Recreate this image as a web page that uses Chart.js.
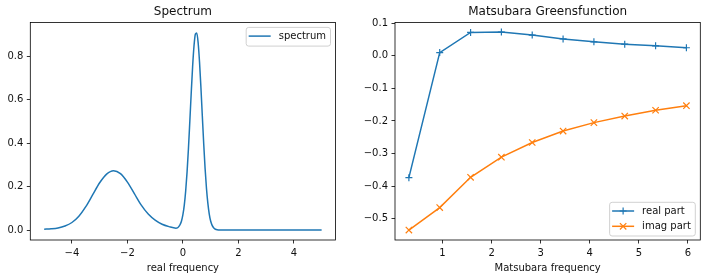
<!DOCTYPE html>
<html>
<head>
<meta charset="utf-8">
<script src="https://cdn.jsdelivr.net/npm/chart.js@4/dist/chart.umd.min.js"></script>
<style>
  html, body { margin: 0; padding: 0; background: #fff; }
  #wrap { position: relative; width: 706px; height: 278px; overflow: hidden; background: #fff; }
  canvas { position: absolute; top: 0; }
  #c1 { left: 0; }
  #c2 { left: 353px; }
</style>
</head>
<body>
<div id="wrap">
  <canvas id="c1" width="353" height="278"></canvas>
  <canvas id="c2" width="353" height="278"></canvas>
</div>
<script>
// ---------- data ----------
const specX = [-5.0, -4.75, -4.5, -4.25, -4.0, -3.75, -3.5, -3.25, -3.0, -2.75, -2.5, -2.25, -2.0, -1.75, -1.5, -1.25, -1.0, -0.75, -0.5, -0.25,
  -0.2, -0.15, -0.1, -0.05, 0.0, 0.05, 0.1, 0.15, 0.2, 0.25, 0.3, 0.35, 0.4, 0.45, 0.5, 0.55, 0.6, 0.65, 0.7, 0.75, 0.8, 0.85, 0.9, 0.95,
  1.0, 1.05, 1.1, 1.15, 1.2, 1.3, 1.4, 1.5, 2.0, 2.5, 3.0, 3.5, 4.0, 4.5, 5.0];
const specY = [0.004, 0.006, 0.010, 0.019, 0.035, 0.064, 0.108, 0.163, 0.218, 0.258, 0.274, 0.260, 0.221, 0.168, 0.115, 0.074, 0.046, 0.027, 0.016, 0.009,
  0.010, 0.016, 0.026, 0.042, 0.071, 0.115, 0.180, 0.267, 0.376, 0.502, 0.632, 0.753, 0.848, 0.903, 0.908, 0.862, 0.773, 0.656, 0.526, 0.398,
  0.284, 0.192, 0.123, 0.074, 0.042, 0.023, 0.012, 0.0055, 0.0025, 0.0008, 0.0003, 0.0001, 0.0, 0.0, 0.0, 0.0, 0.0, 0.0, 0.0];

const matsX = [0.314, 0.942, 1.571, 2.199, 2.827, 3.456, 4.084, 4.712, 5.341, 5.969];
const realPart = [-0.374, 0.010, 0.072, 0.073, 0.064, 0.052, 0.043, 0.036, 0.031, 0.025];
const imagPart = [-0.535, -0.466, -0.373, -0.311, -0.266, -0.231, -0.205, -0.185, -0.167, -0.153];

const specXTicks = [-4, -2, 0, 2, 4];
const specYTicks = [0.0, 0.2, 0.4, 0.6, 0.8];
const matsXTicks = [1, 2, 3, 4, 5, 6];
const matsYTicks = [-0.5, -0.4, -0.3, -0.2, -0.1, 0.0, 0.1];

const titles = ['Spectrum', 'Matsubara Greensfunction'];
const xTitles = ['real frequency', 'Matsubara frequency'];
const legend1 = ['spectrum'];
const legend2 = ['real part', 'imag part'];

// ---------- styling ----------
const FONT = 'DejaVu Sans';
const BLUE = '#1f77b4';
const ORANGE = '#ff7f0e';
const TXT = '#111';

function minus(s) { return s.replace('-', '\u2212'); }
function fmtInt(v) { return minus(String(Math.round(v))); }
function fmt1(v) { let s = (Math.round(v * 10) / 10).toFixed(1); if (s === '-0.0') s = '0.0'; return minus(s); }

function makeScale(opts) {
  return {
    type: 'linear',
    min: opts.min, max: opts.max,
    afterBuildTicks: s => { s.ticks = opts.ticks.map(v => ({ value: v })); },
    afterFit: s => { if (opts.width !== undefined) s.width = opts.width; if (opts.height !== undefined) s.height = opts.height; },
    ticks: { callback: opts.fmt, color: TXT, font: { family: FONT, size: 10 }, padding: 3.5, maxRotation: 0, autoSkip: false },
    grid: { drawOnChartArea: false, drawTicks: true, tickLength: 3.5, tickColor: '#000', tickWidth: 0.8 },
    border: { display: false },
    title: opts.title ? { display: true, text: opts.title, color: TXT, font: { family: FONT, size: 10 }, padding: { top: 4, bottom: 4 } } : { display: false }
  };
}

function drawCross(ctx, x, y, r, rot, color) {
  ctx.save();
  ctx.strokeStyle = color; ctx.lineWidth = 1.2;
  ctx.beginPath();
  if (!rot) {
    ctx.moveTo(x - r, y); ctx.lineTo(x + r, y);
    ctx.moveTo(x, y - r); ctx.lineTo(x, y + r);
  } else {
    ctx.moveTo(x - r, y - r); ctx.lineTo(x + r, y + r);
    ctx.moveTo(x - r, y + r); ctx.lineTo(x + r, y - r);
  }
  ctx.stroke();
  ctx.restore();
}

function roundRect(ctx, x, y, w, h, r) {
  ctx.beginPath();
  ctx.moveTo(x + r, y); ctx.lineTo(x + w - r, y); ctx.quadraticCurveTo(x + w, y, x + w, y + r);
  ctx.lineTo(x + w, y + h - r); ctx.quadraticCurveTo(x + w, y + h, x + w - r, y + h);
  ctx.lineTo(x + r, y + h); ctx.quadraticCurveTo(x, y + h, x, y + h - r);
  ctx.lineTo(x, y + r); ctx.quadraticCurveTo(x, y, x + r, y);
  ctx.closePath();
}

const framePlugin = {
  id: 'frame',
  afterDraw(chart) {
    const { ctx, chartArea: a } = chart;
    ctx.save();
    ctx.strokeStyle = '#000'; ctx.lineWidth = 0.8;
    ctx.strokeRect(a.left, a.top, a.right - a.left, a.bottom - a.top);
    // legend
    const lg = chart.options.plugins.mplLegend;
    if (lg) {
      ctx.font = '10px "' + FONT + '"';
      let tw = 0; lg.items.forEach(it => tw = Math.max(tw, ctx.measureText(it.text).width));
      const w = 32.5 + tw + 4.5;
      const h = 4.5 + lg.items.length * 15.3 - 0.2 + 0;
      const bh = lg.items.length === 1 ? 18.7 : 33.7;
      const x0 = a.right - 5 - w;
      const y0 = lg.pos === 'top' ? a.top + 5 : a.bottom - 4 - bh;
      roundRect(ctx, x0, y0, w, bh, 2.5);
      ctx.fillStyle = 'rgba(255,255,255,0.8)'; ctx.fill();
      ctx.strokeStyle = 'rgba(204,204,204,0.9)'; ctx.lineWidth = 1; ctx.stroke();
      lg.items.forEach((it, i) => {
        const yy = y0 + 8.7 + i * 15.3;
        ctx.strokeStyle = it.color; ctx.lineWidth = 1.5;
        ctx.beginPath(); ctx.moveTo(x0 + 2.5, yy); ctx.lineTo(x0 + 24.5, yy); ctx.stroke();
        if (it.marker === 'cross') drawCross(ctx, x0 + 13.5, yy, 3.5, false, it.color);
        if (it.marker === 'crossRot') drawCross(ctx, x0 + 13.5, yy, 3.2, true, it.color);
        ctx.fillStyle = TXT; ctx.textBaseline = 'middle'; ctx.textAlign = 'left';
        ctx.fillText(it.text, x0 + 32.5, yy + 0.5);
      });
    }
    ctx.restore();
  }
};

Chart.defaults.font.family = FONT;

new Chart(document.getElementById('c1'), {
  type: 'line',
  data: {
    datasets: [{
      label: legend1[0],
      data: specX.map((x, i) => ({ x: x, y: specY[i] })),
      borderColor: BLUE, borderWidth: 1.5, pointRadius: 0, fill: false,
      cubicInterpolationMode: 'monotone'
    }]
  },
  options: {
    animation: false, responsive: false, devicePixelRatio: 1,
    layout: { padding: { left: 0, right: 17.5, top: 0, bottom: 0 } },
    plugins: {
      legend: { display: false }, tooltip: { enabled: false },
      title: { display: true, fullSize: false, text: titles[0], color: TXT, font: { family: FONT, size: 12, weight: 'normal' }, padding: { top: 5, bottom: 3 } },
      mplLegend: { pos: 'top', items: [{ text: legend1[0], color: BLUE, marker: null }] }
    },
    scales: {
      x: makeScale({ min: -5.5, max: 5.5, ticks: specXTicks, fmt: fmtInt, title: xTitles[0], height: 38 }),
      y: makeScale({ min: -0.0456, max: 0.957, ticks: specYTicks, fmt: fmt1, width: 30.3 })
    }
  },
  plugins: [framePlugin]
});

new Chart(document.getElementById('c2'), {
  type: 'line',
  data: {
    datasets: [{
      label: legend2[0],
      data: matsX.map((x, i) => ({ x: x, y: realPart[i] })),
      borderColor: BLUE, borderWidth: 1.5, fill: false, tension: 0,
      pointStyle: 'cross', pointRadius: 3.5, pointBorderWidth: 1.2, pointBorderColor: BLUE, pointBackgroundColor: BLUE
    }, {
      label: legend2[1],
      data: matsX.map((x, i) => ({ x: x, y: imagPart[i] })),
      borderColor: ORANGE, borderWidth: 1.5, fill: false, tension: 0,
      pointStyle: 'crossRot', pointRadius: 4.5, pointBorderWidth: 1.2, pointBorderColor: ORANGE, pointBackgroundColor: ORANGE
    }]
  },
  options: {
    animation: false, responsive: false, devicePixelRatio: 1,
    layout: { padding: { left: 0, right: 5.7, top: 0, bottom: 0 } },
    plugins: {
      legend: { display: false }, tooltip: { enabled: false },
      title: { display: true, fullSize: false, text: titles[1], color: TXT, font: { family: FONT, size: 12, weight: 'normal' }, padding: { top: 5, bottom: 3 } },
      mplLegend: { pos: 'bottom', items: [{ text: legend2[0], color: BLUE, marker: 'cross' }, { text: legend2[1], color: ORANGE, marker: 'crossRot' }] }
    },
    scales: {
      x: makeScale({ min: 0.031, max: 6.252, ticks: matsXTicks, fmt: fmtInt, title: xTitles[1], height: 38 }),
      y: makeScale({ min: -0.5655, max: 0.1028, ticks: matsYTicks, fmt: fmt1, width: 42 })
    }
  },
  plugins: [framePlugin]
});
</script>
</body>
</html>
